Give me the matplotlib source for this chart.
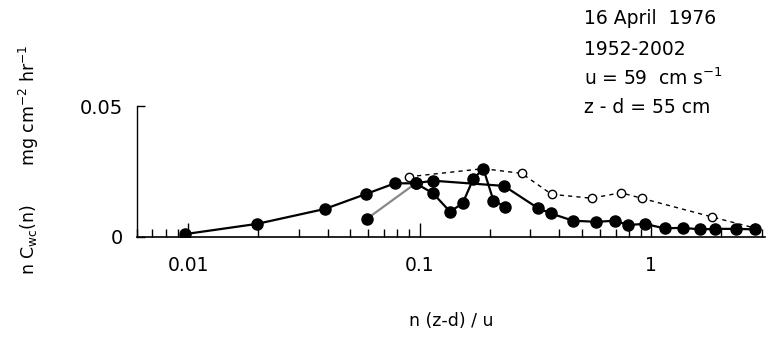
import matplotlib.pyplot as plt
from matplotlib.ticker import LogLocator, NullFormatter, FixedLocator

# main curve (filled circles, solid line)
a_x = [0.0097, 0.0198, 0.0389, 0.0585, 0.078, 0.096, 0.114, 0.231, 0.324, 0.368,
       0.459, 0.579, 0.695, 0.794, 0.937, 1.14, 1.37, 1.62, 1.88, 2.33, 2.80]
a_y = [0.0011, 0.0050, 0.0107, 0.0164, 0.0205, 0.0205, 0.0215, 0.0195, 0.0110, 0.0090,
       0.0062, 0.0058, 0.0062, 0.0046, 0.0050, 0.0033, 0.0035, 0.0029, 0.0031, 0.0031, 0.0029]

# second filled series (zigzag)
b_x = [0.059, 0.096, 0.114, 0.135, 0.153, 0.170, 0.188, 0.208, 0.233]
b_y = [0.0069, 0.0205, 0.0167, 0.0097, 0.0128, 0.0221, 0.0261, 0.0139, 0.0116]

# open circles, dashed line
c_x = [0.0896, 0.188, 0.275, 0.371, 0.552, 0.738, 0.907, 1.82, 2.80]
c_y = [0.0230, 0.0261, 0.0243, 0.0163, 0.0148, 0.0169, 0.0148, 0.0077, 0.0034]

x_ticks = [0.01, 0.1, 1]
x_labels = ['0.01', '0.1', '1']
y_ticks = [0, 0.05]
y_labels = ['0', '0.05']

fig = plt.figure(figsize=(7.69, 3.40), dpi=100)
ax = fig.add_axes([0.178, 0.303, 0.817, 0.385])

ax.plot(c_x, c_y, linestyle=(0, (3, 3)), color='black', linewidth=1.0,
        marker='o', markersize=6, markerfacecolor='white', markeredgecolor='black', zorder=2)
ax.plot(b_x[:2], b_y[:2], color='#888888', linewidth=1.6, zorder=3)
ax.plot(b_x[1:], b_y[1:], color='black', linewidth=1.6, zorder=3)
ax.plot(b_x, b_y, linestyle='none', marker='o', markersize=8, color='black', zorder=4)
ax.plot(a_x, a_y, color='black', linewidth=1.6, marker='o', markersize=8, zorder=4)

ax.set_xscale('log')
ax.set_xlim(0.006, 3.1)
ax.set_ylim(0, 0.05)

for s in ['top', 'right']:
    ax.spines[s].set_visible(False)
ax.spines['left'].set_linewidth(1.0)
ax.spines['bottom'].set_linewidth(1.2)

ax.xaxis.set_major_locator(FixedLocator(x_ticks))
ax.set_xticklabels(x_labels, fontsize=13.5)
ax.xaxis.set_minor_locator(LogLocator(base=10, subs=range(2, 10)))
ax.xaxis.set_minor_formatter(NullFormatter())
ax.tick_params(axis='x', which='major', direction='in', length=10, width=1.0, pad=14)
ax.tick_params(axis='x', which='minor', direction='in', length=6, width=1.0)

ax.set_yticks(y_ticks)
ax.set_yticklabels(y_labels, fontsize=14)
ax.tick_params(axis='y', direction='in', length=6, width=1.0, pad=10)

ax.set_xlabel('n (z-d) / u', fontsize=12.5, labelpad=26)
fig.text(0.038, 0.53, 'n C$_{\\mathrm{wc}}$(n)       mg cm$^{-2}$ hr$^{-1}$',
         rotation=90, ha='center', va='center', fontsize=12.5)

fig.text(0.76, 0.945, '16 April  1976', fontsize=13.5, ha='left', va='center')
fig.text(0.76, 0.855, '1952-2002', fontsize=13.5, ha='left', va='center')
fig.text(0.76, 0.77, 'u = 59  cm s$^{-1}$', fontsize=13.5, ha='left', va='center')
fig.text(0.76, 0.683, 'z - d = 55 cm', fontsize=13.5, ha='left', va='center')

fig.savefig('out.png', dpi=100)
